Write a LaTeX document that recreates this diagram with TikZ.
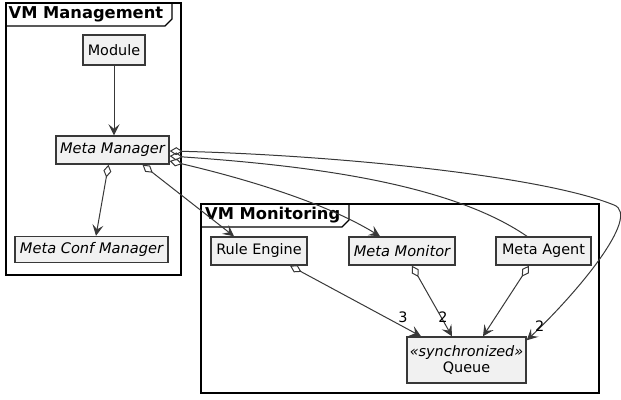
\documentclass[tikz,border=0pt]{standalone}
\usepackage{fontspec}
\setmainfont{DejaVu Sans}
\usetikzlibrary{arrows.meta}
\definecolor{boxfill}{HTML}{F1F1F1}
\definecolor{boxline}{HTML}{383838}
\definecolor{edgeline}{HTML}{383838}

\begin{document}
\begin{tikzpicture}[x=1pt,y=-1pt,
  font=\fontsize{14.4}{16}\selectfont,
  cls/.style={draw=boxline, fill=boxfill, line width=1.4pt, inner sep=0pt, minimum height=28pt},
  absclass/.style={cls, font=\fontsize{14.6}{16}\selectfont\itshape},
  pkgframe/.style={draw=black, line width=1.8pt},
  pkgtab/.style={draw=black, line width=1.2pt},
  pkgtitle/.style={anchor=west, inner sep=0pt, font=\fontsize{16.3}{18}\selectfont\bfseries},
  link/.style={draw=edgeline, line width=1pt},
  agg/.style={link, {Diamond[open,length=13pt,width=8pt]}-},
  aggarr/.style={link, {Diamond[open,length=13pt,width=8pt]}-{Stealth[length=11pt,width=11pt,inset=4.5pt]}},
  arr/.style={link, -{Stealth[length=11pt,width=11pt,inset=4.5pt]}},
  mult/.style={inner sep=0pt}
]
\useasboundingbox (0,0) rectangle (621,399);

% package frames
\draw[pkgframe] (6,3) rectangle (181,275);
\draw[pkgtab] (6,26) -- (165,26) -- (172,19) -- (172,3);
\node[pkgtitle] (mgmtT) at (8.5,14.5) {VM Management};

\draw[pkgframe] (201,204) rectangle (599,393);
\draw[pkgtab] (201,227) -- (342,227) -- (349,220) -- (349,204);
\node[pkgtitle] (monT) at (205,215.5) {VM Monitoring};

% classes
\node[cls, minimum width=62pt, minimum height=30pt] (mod) at (114,50) {Module};
\node[absclass, minimum width=113pt] (mm) at (112.5,150) {Meta Manager};
\node[absclass, minimum width=153pt, minimum height=26pt] (mcm) at (91.5,249.5) {Meta Conf Manager};
\node[cls, minimum width=96pt] (re) at (259,251) {Rule Engine};
\node[absclass, minimum width=106pt] (mon) at (402,251) {Meta Monitor};
\node[cls, minimum width=95pt] (ag) at (543.5,251) {Meta Agent};
\node[cls, minimum width=119pt, minimum height=46pt, align=center] (q) at (466.5,360)
  {\textit{«synchronized»}\\Queue};

% relations
\draw[arr] (mod.south) -- (mod.south |- mm.north);
\draw[aggarr] ([xshift=-4pt]mm.south) -- ([xshift=4.5pt]mcm.north);
\draw[aggarr] ([xshift=30pt]mm.south) -- ([xshift=-25pt]re.north);
\draw[aggarr] ([yshift=-11pt]mm.east) .. controls +(60,14) and +(-60,-37) .. ([xshift=-22pt]mon.north);
\draw[agg] ([yshift=-6pt]mm.east) .. controls +(130,9) and +(-80,-55) .. ([xshift=-16.5pt]ag.north);
\draw[aggarr] ([yshift=-1pt]mm.east) .. controls +(160,4) and (540,175) .. (614,205)
  .. controls (642,216) and (575,295) .. ([yshift=-4pt]q.north east);

\draw[aggarr] ([xshift=31pt]re.south) -- ([xshift=-45.5pt]q.north);
\draw[aggarr] ([xshift=10pt]mon.south) -- ([xshift=-14.5pt]q.north);
\draw[aggarr] ([xshift=-14.5pt]ag.south) -- ([xshift=16.5pt]q.north);

% multiplicities
\node[mult] (m3) at ([xshift=-63.5pt,yshift=19pt]q.north) {3};
\node[mult] (m2a) at ([xshift=-23.5pt,yshift=19pt]q.north) {2};
\node[mult] (m2b) at ([xshift=13pt,yshift=10pt]q.north east) {2};
\end{tikzpicture}
\end{document}
